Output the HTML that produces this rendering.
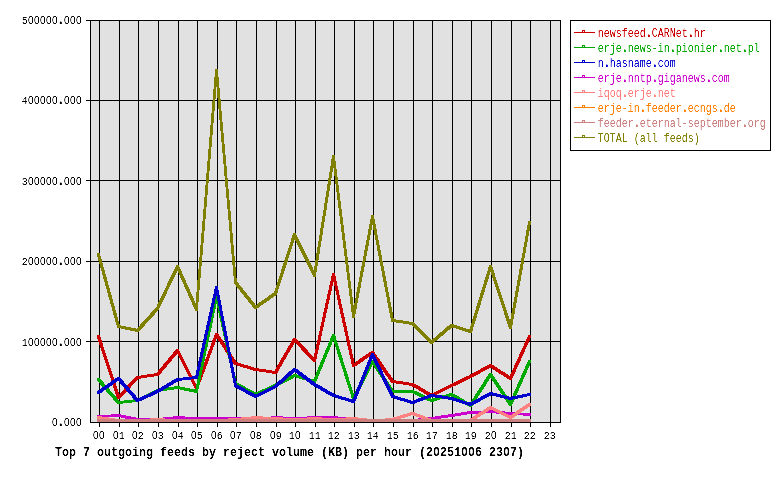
<!DOCTYPE html>
<html><head><meta charset="utf-8"><title>Top 7 outgoing feeds by reject volume</title>
<style>
html,body{margin:0;padding:0;background:#fff;}
body{width:780px;height:480px;overflow:hidden;}
svg{display:block;}
text{font-family:"Liberation Mono","DejaVu Sans Mono",monospace;}
text.t{font-weight:bold;}
tspan.z{font-family:"Liberation Sans","DejaVu Sans",sans-serif;}
tspan.p{font-weight:bold;font-size:16px;}
</style></head><body>
<svg width="780" height="480" viewBox="0 0 780 480">
<defs><filter id="cr" x="0" y="0" width="100%" height="100%" filterUnits="userSpaceOnUse" color-interpolation-filters="sRGB"><feComponentTransfer><feFuncA type="table" tableValues="0 0 0.2 0.8 1 1"/></feComponentTransfer></filter></defs>
<rect x="0" y="0" width="780" height="480" fill="#ffffff"/>
<rect x="90" y="20" width="471" height="403" fill="#e1e1e1"/>
<g stroke="#000" stroke-width="1" shape-rendering="crispEdges" fill="none">

<line x1="99.5" y1="20" x2="99.5" y2="427"/>
<line x1="119.5" y1="20" x2="119.5" y2="427"/>
<line x1="138.5" y1="20" x2="138.5" y2="427"/>
<line x1="158.5" y1="20" x2="158.5" y2="427"/>
<line x1="178.5" y1="20" x2="178.5" y2="427"/>
<line x1="197.5" y1="20" x2="197.5" y2="427"/>
<line x1="217.5" y1="20" x2="217.5" y2="427"/>
<line x1="236.5" y1="20" x2="236.5" y2="427"/>
<line x1="256.5" y1="20" x2="256.5" y2="427"/>
<line x1="276.5" y1="20" x2="276.5" y2="427"/>
<line x1="295.5" y1="20" x2="295.5" y2="427"/>
<line x1="315.5" y1="20" x2="315.5" y2="427"/>
<line x1="334.5" y1="20" x2="334.5" y2="427"/>
<line x1="354.5" y1="20" x2="354.5" y2="427"/>
<line x1="373.5" y1="20" x2="373.5" y2="427"/>
<line x1="393.5" y1="20" x2="393.5" y2="427"/>
<line x1="413.5" y1="20" x2="413.5" y2="427"/>
<line x1="432.5" y1="20" x2="432.5" y2="427"/>
<line x1="452.5" y1="20" x2="452.5" y2="427"/>
<line x1="471.5" y1="20" x2="471.5" y2="427"/>
<line x1="491.5" y1="20" x2="491.5" y2="427"/>
<line x1="511.5" y1="20" x2="511.5" y2="427"/>
<line x1="530.5" y1="20" x2="530.5" y2="427"/>
<line x1="550.5" y1="20" x2="550.5" y2="427"/>
<line x1="86" y1="20.5" x2="561" y2="20.5"/>
<line x1="86" y1="100.5" x2="561" y2="100.5"/>
<line x1="86" y1="180.5" x2="561" y2="180.5"/>
<line x1="86" y1="261.5" x2="561" y2="261.5"/>
<line x1="86" y1="341.5" x2="561" y2="341.5"/>
<rect x="90.5" y="20.5" width="470" height="402"/>
</g>
<g filter="url(#cr)">
<text font-size="11.5" transform="translate(21.7,24.2) scale(0.8696,1)" x="0.00 7.15 14.05 20.95 27.85 34.75 40.05 48.55 55.45 62.35">5<tspan class="z">0</tspan><tspan class="z">0</tspan><tspan class="z">0</tspan><tspan class="z">0</tspan><tspan class="z">0</tspan><tspan class="p">.</tspan><tspan class="z">0</tspan><tspan class="z">0</tspan><tspan class="z">0</tspan></text>
<text font-size="11.5" transform="translate(21.7,104.2) scale(0.8696,1)" x="0.00 7.15 14.05 20.95 27.85 34.75 40.05 48.55 55.45 62.35">4<tspan class="z">0</tspan><tspan class="z">0</tspan><tspan class="z">0</tspan><tspan class="z">0</tspan><tspan class="z">0</tspan><tspan class="p">.</tspan><tspan class="z">0</tspan><tspan class="z">0</tspan><tspan class="z">0</tspan></text>
<text font-size="11.5" transform="translate(21.7,185.2) scale(0.8696,1)" x="0.00 7.15 14.05 20.95 27.85 34.75 40.05 48.55 55.45 62.35">3<tspan class="z">0</tspan><tspan class="z">0</tspan><tspan class="z">0</tspan><tspan class="z">0</tspan><tspan class="z">0</tspan><tspan class="p">.</tspan><tspan class="z">0</tspan><tspan class="z">0</tspan><tspan class="z">0</tspan></text>
<text font-size="11.5" transform="translate(21.7,265.2) scale(0.8696,1)" x="0.00 7.15 14.05 20.95 27.85 34.75 40.05 48.55 55.45 62.35">2<tspan class="z">0</tspan><tspan class="z">0</tspan><tspan class="z">0</tspan><tspan class="z">0</tspan><tspan class="z">0</tspan><tspan class="p">.</tspan><tspan class="z">0</tspan><tspan class="z">0</tspan><tspan class="z">0</tspan></text>
<text font-size="11.5" transform="translate(21.7,346.2) scale(0.8696,1)" x="0.00 7.15 14.05 20.95 27.85 34.75 40.05 48.55 55.45 62.35">1<tspan class="z">0</tspan><tspan class="z">0</tspan><tspan class="z">0</tspan><tspan class="z">0</tspan><tspan class="z">0</tspan><tspan class="p">.</tspan><tspan class="z">0</tspan><tspan class="z">0</tspan><tspan class="z">0</tspan></text>
<text font-size="11.5" transform="translate(51.7,426.2) scale(0.8696,1)" x="0.25 5.55 14.05 20.95 27.85"><tspan class="z">0</tspan><tspan class="p">.</tspan><tspan class="z">0</tspan><tspan class="z">0</tspan><tspan class="z">0</tspan></text>
<text font-size="11.5" transform="translate(92.8,439.3) scale(0.8696,1)" x="0.25 7.15"><tspan class="z">0</tspan><tspan class="z">0</tspan></text>
<text font-size="11.5" transform="translate(112.8,439.3) scale(0.8696,1)" x="0.25 6.90"><tspan class="z">0</tspan>1</text>
<text font-size="11.5" transform="translate(131.8,439.3) scale(0.8696,1)" x="0.25 6.90"><tspan class="z">0</tspan>2</text>
<text font-size="11.5" transform="translate(151.8,439.3) scale(0.8696,1)" x="0.25 6.90"><tspan class="z">0</tspan>3</text>
<text font-size="11.5" transform="translate(171.8,439.3) scale(0.8696,1)" x="0.25 6.90"><tspan class="z">0</tspan>4</text>
<text font-size="11.5" transform="translate(190.8,439.3) scale(0.8696,1)" x="0.25 6.90"><tspan class="z">0</tspan>5</text>
<text font-size="11.5" transform="translate(210.8,439.3) scale(0.8696,1)" x="0.25 6.90"><tspan class="z">0</tspan>6</text>
<text font-size="11.5" transform="translate(229.8,439.3) scale(0.8696,1)" x="0.25 6.90"><tspan class="z">0</tspan>7</text>
<text font-size="11.5" transform="translate(249.8,439.3) scale(0.8696,1)" x="0.25 6.90"><tspan class="z">0</tspan>8</text>
<text font-size="11.5" transform="translate(269.8,439.3) scale(0.8696,1)" x="0.25 6.90"><tspan class="z">0</tspan>9</text>
<text font-size="11.5" transform="translate(288.8,439.3) scale(0.8696,1)" x="0.00 7.15">1<tspan class="z">0</tspan></text>
<text font-size="11.5" transform="translate(308.8,439.3) scale(0.8696,1)" x="0.00 6.90">11</text>
<text font-size="11.5" transform="translate(327.8,439.3) scale(0.8696,1)" x="0.00 6.90">12</text>
<text font-size="11.5" transform="translate(347.8,439.3) scale(0.8696,1)" x="0.00 6.90">13</text>
<text font-size="11.5" transform="translate(366.8,439.3) scale(0.8696,1)" x="0.00 6.90">14</text>
<text font-size="11.5" transform="translate(386.8,439.3) scale(0.8696,1)" x="0.00 6.90">15</text>
<text font-size="11.5" transform="translate(406.8,439.3) scale(0.8696,1)" x="0.00 6.90">16</text>
<text font-size="11.5" transform="translate(425.8,439.3) scale(0.8696,1)" x="0.00 6.90">17</text>
<text font-size="11.5" transform="translate(445.8,439.3) scale(0.8696,1)" x="0.00 6.90">18</text>
<text font-size="11.5" transform="translate(464.8,439.3) scale(0.8696,1)" x="0.00 6.90">19</text>
<text font-size="11.5" transform="translate(484.8,439.3) scale(0.8696,1)" x="0.00 7.15">2<tspan class="z">0</tspan></text>
<text font-size="11.5" transform="translate(504.8,439.3) scale(0.8696,1)" x="0.00 6.90">21</text>
<text font-size="11.5" transform="translate(523.8,439.3) scale(0.8696,1)" x="0.00 6.90">22</text>
<text font-size="11.5" transform="translate(543.8,439.3) scale(0.8696,1)" x="0.00 6.90">23</text>
<text class="t" font-size="12.5" transform="translate(55,455.8) scale(0.9333,1)" x="0.00 7.50 15.00 22.50 30.00 37.50 45.00 52.50 60.00 67.50 75.00 82.50 90.00 97.50 105.00 112.50 120.00 127.50 135.00 142.50 150.00 157.50 165.00 172.50 180.00 187.50 195.00 202.50 210.00 217.50 225.00 232.50 240.00 247.50 255.00 262.50 270.00 277.50 285.00 292.50 300.00 307.50 315.00 322.50 330.00 337.50 345.00 352.50 360.00 367.50 375.00 382.50 390.00 397.50 405.27 412.50 420.00 427.50 435.27 442.77 450.00 457.50 465.00 472.50 480.27 487.50 495.00">Top 7 outgoing feeds by reject volume (KB) per hour (2<tspan class="z">0</tspan>251<tspan class="z">0</tspan><tspan class="z">0</tspan>6 23<tspan class="z">0</tspan>7)</text>
</g>
<g stroke="none" shape-rendering="crispEdges">
<path fill="#cc0000" d="M97.2 335.2L99.8 335.2L119.8 396.2L119.8 398.8L117.2 398.8L97.2 337.8zM117.2 396.2L136.2 376.2L138.8 376.2L138.8 378.8L119.8 398.8L117.2 398.8zM136.2 376.2L156.2 373.2L158.8 373.2L158.8 375.8L138.8 378.8L136.2 378.8zM156.2 373.2L176.2 349.2L178.8 349.2L178.8 351.8L158.8 375.8L156.2 375.8zM176.2 349.2L178.8 349.2L197.8 387.2L197.8 389.8L195.2 389.8L176.2 351.8zM195.2 387.2L215.2 333.2L217.8 333.2L217.8 335.8L197.8 389.8L195.2 389.8zM215.2 333.2L217.8 333.2L236.8 362.2L236.8 364.8L234.2 364.8L215.2 335.8zM234.2 362.2L236.8 362.2L256.8 368.2L256.8 370.8L254.2 370.8L234.2 364.8zM254.2 368.2L256.8 368.2L276.8 371.2L276.8 373.8L274.2 373.8L254.2 370.8zM274.2 371.2L293.2 338.2L295.8 338.2L295.8 340.8L276.8 373.8L274.2 373.8zM293.2 338.2L295.8 338.2L315.8 359.2L315.8 361.8L313.2 361.8L293.2 340.8zM313.2 359.2L332.2 273.2L334.8 273.2L334.8 275.8L315.8 361.8L313.2 361.8zM332.2 273.2L334.8 273.2L354.8 364.2L354.8 366.8L352.2 366.8L332.2 275.8zM352.2 364.2L371.2 351.2L373.8 351.2L373.8 353.8L354.8 366.8L352.2 366.8zM371.2 351.2L373.8 351.2L393.8 380.2L393.8 382.8L391.2 382.8L371.2 353.8zM391.2 380.2L393.8 380.2L413.8 383.2L413.8 385.8L411.2 385.8L391.2 382.8zM411.2 383.2L413.8 383.2L432.8 394.2L432.8 396.8L430.2 396.8L411.2 385.8zM430.2 394.2L450.2 384.2L452.8 384.2L452.8 386.8L432.8 396.8L430.2 396.8zM450.2 384.2L469.2 375.2L471.8 375.2L471.8 377.8L452.8 386.8L450.2 386.8zM469.2 375.2L489.2 364.2L491.8 364.2L491.8 366.8L471.8 377.8L469.2 377.8zM489.2 364.2L491.8 364.2L511.8 377.2L511.8 379.8L509.2 379.8L489.2 366.8zM509.2 377.2L528.2 335.2L530.8 335.2L530.8 337.8L511.8 379.8L509.2 379.8z"/>
<path fill="#00aa00" d="M97.2 378.2L99.8 378.2L119.8 401.2L119.8 403.8L117.2 403.8L97.2 380.8zM117.2 401.2L136.2 399.2L138.8 399.2L138.8 401.8L119.8 403.8L117.2 403.8zM136.2 399.2L156.2 389.2L158.8 389.2L158.8 391.8L138.8 401.8L136.2 401.8zM156.2 389.2L176.2 386.2L178.8 386.2L178.8 388.8L158.8 391.8L156.2 391.8zM176.2 386.2L178.8 386.2L197.8 390.2L197.8 392.8L195.2 392.8L176.2 388.8zM195.2 390.2L215.2 295.2L217.8 295.2L217.8 297.8L197.8 392.8L195.2 392.8zM215.2 295.2L217.8 295.2L236.8 382.2L236.8 384.8L234.2 384.8L215.2 297.8zM234.2 382.2L236.8 382.2L256.8 393.2L256.8 395.8L254.2 395.8L234.2 384.8zM254.2 393.2L274.2 384.2L276.8 384.2L276.8 386.8L256.8 395.8L254.2 395.8zM274.2 384.2L293.2 374.2L295.8 374.2L295.8 376.8L276.8 386.8L274.2 386.8zM293.2 374.2L295.8 374.2L315.8 380.2L315.8 382.8L313.2 382.8L293.2 376.8zM313.2 380.2L332.2 334.2L334.8 334.2L334.8 336.8L315.8 382.8L313.2 382.8zM332.2 334.2L334.8 334.2L354.8 397.2L354.8 399.8L352.2 399.8L332.2 336.8zM352.2 397.2L371.2 360.2L373.8 360.2L373.8 362.8L354.8 399.8L352.2 399.8zM371.2 360.2L373.8 360.2L393.8 390.2L393.8 392.8L391.2 392.8L371.2 362.8zM391.2 390.2L413.8 390.2L413.8 392.8L391.2 392.8zM411.2 390.2L413.8 390.2L432.8 399.2L432.8 401.8L430.2 401.8L411.2 392.8zM430.2 399.2L450.2 393.2L452.8 393.2L452.8 395.8L432.8 401.8L430.2 401.8zM450.2 393.2L452.8 393.2L471.8 404.2L471.8 406.8L469.2 406.8L450.2 395.8zM469.2 404.2L489.2 373.2L491.8 373.2L491.8 375.8L471.8 406.8L469.2 406.8zM489.2 373.2L491.8 373.2L511.8 403.2L511.8 405.8L509.2 405.8L489.2 375.8zM509.2 403.2L528.2 360.2L530.8 360.2L530.8 362.8L511.8 405.8L509.2 405.8z"/>
<path fill="#0000cc" d="M97.2 391.2L117.2 377.2L119.8 377.2L119.8 379.8L99.8 393.8L97.2 393.8zM117.2 377.2L119.8 377.2L138.8 399.2L138.8 401.8L136.2 401.8L117.2 379.8zM136.2 399.2L156.2 390.2L158.8 390.2L158.8 392.8L138.8 401.8L136.2 401.8zM156.2 390.2L176.2 378.2L178.8 378.2L178.8 380.8L158.8 392.8L156.2 392.8zM176.2 378.2L195.2 376.2L197.8 376.2L197.8 378.8L178.8 380.8L176.2 380.8zM195.2 376.2L215.2 286.2L217.8 286.2L217.8 288.8L197.8 378.8L195.2 378.8zM215.2 286.2L217.8 286.2L236.8 384.2L236.8 386.8L234.2 386.8L215.2 288.8zM234.2 384.2L236.8 384.2L256.8 395.2L256.8 397.8L254.2 397.8L234.2 386.8zM254.2 395.2L274.2 385.2L276.8 385.2L276.8 387.8L256.8 397.8L254.2 397.8zM274.2 385.2L293.2 368.2L295.8 368.2L295.8 370.8L276.8 387.8L274.2 387.8zM293.2 368.2L295.8 368.2L315.8 383.2L315.8 385.8L313.2 385.8L293.2 370.8zM313.2 383.2L315.8 383.2L334.8 394.2L334.8 396.8L332.2 396.8L313.2 385.8zM332.2 394.2L334.8 394.2L354.8 400.2L354.8 402.8L352.2 402.8L332.2 396.8zM352.2 400.2L371.2 353.2L373.8 353.2L373.8 355.8L354.8 402.8L352.2 402.8zM371.2 353.2L373.8 353.2L393.8 395.2L393.8 397.8L391.2 397.8L371.2 355.8zM391.2 395.2L393.8 395.2L413.8 401.2L413.8 403.8L411.2 403.8L391.2 397.8zM411.2 401.2L430.2 394.2L432.8 394.2L432.8 396.8L413.8 403.8L411.2 403.8zM430.2 394.2L432.8 394.2L452.8 397.2L452.8 399.8L450.2 399.8L430.2 396.8zM450.2 397.2L452.8 397.2L471.8 403.2L471.8 405.8L469.2 405.8L450.2 399.8zM469.2 403.2L489.2 392.2L491.8 392.2L491.8 394.8L471.8 405.8L469.2 405.8zM489.2 392.2L491.8 392.2L511.8 397.2L511.8 399.8L509.2 399.8L489.2 394.8zM509.2 397.2L528.2 393.2L530.8 393.2L530.8 395.8L511.8 399.8L509.2 399.8z"/>
<path fill="#cc00cc" d="M97.2 415.2L117.2 414.2L119.8 414.2L119.8 416.8L99.8 417.8L97.2 417.8zM117.2 414.2L119.8 414.2L138.8 418.2L138.8 420.8L136.2 420.8L117.2 416.8zM136.2 418.2L158.8 418.2L158.8 420.8L136.2 420.8zM156.2 418.2L176.2 416.2L178.8 416.2L178.8 418.8L158.8 420.8L156.2 420.8zM176.2 416.2L178.8 416.2L197.8 417.2L197.8 419.8L195.2 419.8L176.2 418.8zM195.2 417.2L217.8 417.2L217.8 419.8L195.2 419.8zM215.2 417.2L236.8 417.2L236.8 419.8L215.2 419.8zM234.2 417.2L236.8 417.2L256.8 418.2L256.8 420.8L254.2 420.8L234.2 419.8zM254.2 418.2L274.2 416.2L276.8 416.2L276.8 418.8L256.8 420.8L254.2 420.8zM274.2 416.2L276.8 416.2L295.8 417.2L295.8 419.8L293.2 419.8L274.2 418.8zM293.2 417.2L313.2 416.2L315.8 416.2L315.8 418.8L295.8 419.8L293.2 419.8zM313.2 416.2L334.8 416.2L334.8 418.8L313.2 418.8zM332.2 416.2L334.8 416.2L354.8 418.2L354.8 420.8L352.2 420.8L332.2 418.8zM352.2 418.2L354.8 418.2L373.8 419.2L373.8 421.8L371.2 421.8L352.2 420.8zM371.2 419.2L393.8 419.2L393.8 421.8L371.2 421.8zM391.2 419.2L413.8 419.2L413.8 421.8L391.2 421.8zM411.2 419.2L430.2 417.2L432.8 417.2L432.8 419.8L413.8 421.8L411.2 421.8zM430.2 417.2L450.2 414.2L452.8 414.2L452.8 416.8L432.8 419.8L430.2 419.8zM450.2 414.2L469.2 411.2L471.8 411.2L471.8 413.8L452.8 416.8L450.2 416.8zM469.2 411.2L489.2 410.2L491.8 410.2L491.8 412.8L471.8 413.8L469.2 413.8zM489.2 410.2L491.8 410.2L511.8 412.2L511.8 414.8L509.2 414.8L489.2 412.8zM509.2 412.2L511.8 412.2L530.8 413.2L530.8 415.8L528.2 415.8L509.2 414.8z"/>
<path fill="#ff8080" d="M97.2 416.2L99.8 416.2L119.8 419.2L119.8 421.8L117.2 421.8L97.2 418.8zM117.2 419.2L138.8 419.2L138.8 421.8L117.2 421.8zM136.2 419.2L156.2 418.2L158.8 418.2L158.8 420.8L138.8 421.8L136.2 421.8zM156.2 418.2L158.8 418.2L178.8 419.2L178.8 421.8L176.2 421.8L156.2 420.8zM176.2 419.2L197.8 419.2L197.8 421.8L176.2 421.8zM195.2 419.2L217.8 419.2L217.8 421.8L195.2 421.8zM215.2 419.2L234.2 418.2L236.8 418.2L236.8 420.8L217.8 421.8L215.2 421.8zM234.2 418.2L254.2 416.2L256.8 416.2L256.8 418.8L236.8 420.8L234.2 420.8zM254.2 416.2L256.8 416.2L276.8 417.2L276.8 419.8L274.2 419.8L254.2 418.8zM274.2 417.2L276.8 417.2L295.8 418.2L295.8 420.8L293.2 420.8L274.2 419.8zM293.2 418.2L313.2 417.2L315.8 417.2L315.8 419.8L295.8 420.8L293.2 420.8zM313.2 417.2L315.8 417.2L334.8 418.2L334.8 420.8L332.2 420.8L313.2 419.8zM332.2 418.2L352.2 417.2L354.8 417.2L354.8 419.8L334.8 420.8L332.2 420.8zM352.2 417.2L354.8 417.2L373.8 419.2L373.8 421.8L371.2 421.8L352.2 419.8zM371.2 419.2L391.2 418.2L393.8 418.2L393.8 420.8L373.8 421.8L371.2 421.8zM391.2 418.2L411.2 412.2L413.8 412.2L413.8 414.8L393.8 420.8L391.2 420.8zM411.2 412.2L413.8 412.2L432.8 419.2L432.8 421.8L430.2 421.8L411.2 414.8zM430.2 419.2L452.8 419.2L452.8 421.8L430.2 421.8zM450.2 419.2L471.8 419.2L471.8 421.8L450.2 421.8zM469.2 419.2L489.2 406.2L491.8 406.2L491.8 408.8L471.8 421.8L469.2 421.8zM489.2 406.2L491.8 406.2L511.8 416.2L511.8 418.8L509.2 418.8L489.2 408.8zM509.2 416.2L528.2 403.2L530.8 403.2L530.8 405.8L511.8 418.8L509.2 418.8z"/>
<path fill="#ff8000" d="M97.2 419.2L119.8 419.2L119.8 421.8L97.2 421.8zM117.2 419.2L138.8 419.2L138.8 421.8L117.2 421.8zM136.2 419.2L158.8 419.2L158.8 421.8L136.2 421.8zM156.2 419.2L178.8 419.2L178.8 421.8L156.2 421.8zM176.2 419.2L197.8 419.2L197.8 421.8L176.2 421.8zM195.2 419.2L217.8 419.2L217.8 421.8L195.2 421.8zM215.2 419.2L236.8 419.2L236.8 421.8L215.2 421.8zM234.2 419.2L256.8 419.2L256.8 421.8L234.2 421.8zM254.2 419.2L276.8 419.2L276.8 421.8L254.2 421.8zM274.2 419.2L295.8 419.2L295.8 421.8L274.2 421.8zM293.2 419.2L315.8 419.2L315.8 421.8L293.2 421.8zM313.2 419.2L334.8 419.2L334.8 421.8L313.2 421.8zM332.2 419.2L354.8 419.2L354.8 421.8L332.2 421.8zM352.2 419.2L373.8 419.2L373.8 421.8L352.2 421.8zM371.2 419.2L393.8 419.2L393.8 421.8L371.2 421.8zM391.2 419.2L413.8 419.2L413.8 421.8L391.2 421.8zM411.2 419.2L432.8 419.2L432.8 421.8L411.2 421.8zM430.2 419.2L452.8 419.2L452.8 421.8L430.2 421.8zM450.2 419.2L471.8 419.2L471.8 421.8L450.2 421.8zM469.2 419.2L491.8 419.2L491.8 421.8L469.2 421.8zM489.2 419.2L511.8 419.2L511.8 421.8L489.2 421.8zM509.2 419.2L530.8 419.2L530.8 421.8L509.2 421.8z"/>
<path fill="#cc8080" d="M97.2 419.2L119.8 419.2L119.8 421.8L97.2 421.8zM117.2 419.2L138.8 419.2L138.8 421.8L117.2 421.8zM136.2 419.2L158.8 419.2L158.8 421.8L136.2 421.8zM156.2 419.2L178.8 419.2L178.8 421.8L156.2 421.8zM176.2 419.2L197.8 419.2L197.8 421.8L176.2 421.8zM195.2 419.2L217.8 419.2L217.8 421.8L195.2 421.8zM215.2 419.2L236.8 419.2L236.8 421.8L215.2 421.8zM234.2 419.2L256.8 419.2L256.8 421.8L234.2 421.8zM254.2 419.2L276.8 419.2L276.8 421.8L254.2 421.8zM274.2 419.2L295.8 419.2L295.8 421.8L274.2 421.8zM293.2 419.2L315.8 419.2L315.8 421.8L293.2 421.8zM313.2 419.2L334.8 419.2L334.8 421.8L313.2 421.8zM332.2 419.2L354.8 419.2L354.8 421.8L332.2 421.8zM352.2 419.2L373.8 419.2L373.8 421.8L352.2 421.8zM371.2 419.2L393.8 419.2L393.8 421.8L371.2 421.8zM391.2 419.2L413.8 419.2L413.8 421.8L391.2 421.8zM411.2 419.2L432.8 419.2L432.8 421.8L411.2 421.8zM430.2 419.2L452.8 419.2L452.8 421.8L430.2 421.8zM450.2 419.2L471.8 419.2L471.8 421.8L450.2 421.8zM469.2 419.2L491.8 419.2L491.8 421.8L469.2 421.8zM489.2 419.2L511.8 419.2L511.8 421.8L489.2 421.8zM509.2 419.2L530.8 419.2L530.8 421.8L509.2 421.8z"/>
<path fill="#808000" d="M97.2 253.2L99.8 253.2L119.8 325.2L119.8 327.8L117.2 327.8L97.2 255.8zM117.2 325.2L119.8 325.2L138.8 329.2L138.8 331.8L136.2 331.8L117.2 327.8zM136.2 329.2L156.2 307.2L158.8 307.2L158.8 309.8L138.8 331.8L136.2 331.8zM156.2 307.2L176.2 265.2L178.8 265.2L178.8 267.8L158.8 309.8L156.2 309.8zM176.2 265.2L178.8 265.2L197.8 308.2L197.8 310.8L195.2 310.8L176.2 267.8zM195.2 308.2L215.2 69.2L217.8 69.2L217.8 71.8L197.8 310.8L195.2 310.8zM215.2 69.2L217.8 69.2L236.8 281.2L236.8 283.8L234.2 283.8L215.2 71.8zM234.2 281.2L236.8 281.2L256.8 306.2L256.8 308.8L254.2 308.8L234.2 283.8zM254.2 306.2L274.2 292.2L276.8 292.2L276.8 294.8L256.8 308.8L254.2 308.8zM274.2 292.2L293.2 233.2L295.8 233.2L295.8 235.8L276.8 294.8L274.2 294.8zM293.2 233.2L295.8 233.2L315.8 274.2L315.8 276.8L313.2 276.8L293.2 235.8zM313.2 274.2L332.2 155.2L334.8 155.2L334.8 157.8L315.8 276.8L313.2 276.8zM332.2 155.2L334.8 155.2L354.8 315.2L354.8 317.8L352.2 317.8L332.2 157.8zM352.2 315.2L371.2 215.2L373.8 215.2L373.8 217.8L354.8 317.8L352.2 317.8zM371.2 215.2L373.8 215.2L393.8 319.2L393.8 321.8L391.2 321.8L371.2 217.8zM391.2 319.2L393.8 319.2L413.8 322.2L413.8 324.8L411.2 324.8L391.2 321.8zM411.2 322.2L413.8 322.2L432.8 341.2L432.8 343.8L430.2 343.8L411.2 324.8zM430.2 341.2L450.2 324.2L452.8 324.2L452.8 326.8L432.8 343.8L430.2 343.8zM450.2 324.2L452.8 324.2L471.8 330.2L471.8 332.8L469.2 332.8L450.2 326.8zM469.2 330.2L489.2 265.2L491.8 265.2L491.8 267.8L471.8 332.8L469.2 332.8zM489.2 265.2L491.8 265.2L511.8 326.2L511.8 328.8L509.2 328.8L489.2 267.8zM509.2 326.2L528.2 221.2L530.8 221.2L530.8 223.8L511.8 328.8L509.2 328.8z"/>
</g>
<rect x="570.5" y="20.5" width="200" height="130" fill="#fff" stroke="#000" stroke-width="1" shape-rendering="crispEdges"/>
<g filter="url(#cr)">
<text fill="#cc0000" font-size="12" transform="translate(597.7,36.7) scale(0.8333,1)" x="0.00 7.20 14.40 21.60 28.80 36.00 43.20 50.40 56.40 64.80 72.00 79.20 86.40 93.60 100.80 106.80 115.20 122.40">newsfeed<tspan class="p">.</tspan>CARNet<tspan class="p">.</tspan>hr</text>
<text fill="#00aa00" font-size="12" transform="translate(597.7,51.7) scale(0.8333,1)" x="0.00 7.20 14.40 21.60 27.60 36.00 43.20 50.40 57.60 64.80 72.00 79.20 85.20 93.60 100.80 108.00 115.20 122.40 129.60 136.80 142.80 151.20 158.40 165.60 171.60 180.00 187.20">erje<tspan class="p">.</tspan>news-in<tspan class="p">.</tspan>pionier<tspan class="p">.</tspan>net<tspan class="p">.</tspan>pl</text>
<text fill="#0000cc" font-size="12" transform="translate(597.7,66.7) scale(0.8333,1)" x="0.00 6.00 14.40 21.60 28.80 36.00 43.20 50.40 57.60 63.60 72.00 79.20 86.40">n<tspan class="p">.</tspan>hasname<tspan class="p">.</tspan>com</text>
<text fill="#cc00cc" font-size="12" transform="translate(597.7,81.7) scale(0.8333,1)" x="0.00 7.20 14.40 21.60 27.60 36.00 43.20 50.40 57.60 63.60 72.00 79.20 86.40 93.60 100.80 108.00 115.20 122.40 128.40 136.80 144.00 151.20">erje<tspan class="p">.</tspan>nntp<tspan class="p">.</tspan>giganews<tspan class="p">.</tspan>com</text>
<text fill="#ff8080" font-size="12" transform="translate(597.7,96.7) scale(0.8333,1)" x="0.00 7.20 14.40 21.60 27.60 36.00 43.20 50.40 57.60 63.60 72.00 79.20 86.40">iqoq<tspan class="p">.</tspan>erje<tspan class="p">.</tspan>net</text>
<text fill="#ff8000" font-size="12" transform="translate(597.7,111.7) scale(0.8333,1)" x="0.00 7.20 14.40 21.60 28.80 36.00 43.20 49.20 57.60 64.80 72.00 79.20 86.40 93.60 99.60 108.00 115.20 122.40 129.60 136.80 142.80 151.20 158.40">erje-in<tspan class="p">.</tspan>feeder<tspan class="p">.</tspan>ecngs<tspan class="p">.</tspan>de</text>
<text fill="#cc8080" font-size="12" transform="translate(597.7,126.7) scale(0.8333,1)" x="0.00 7.20 14.40 21.60 28.80 36.00 42.00 50.40 57.60 64.80 72.00 79.20 86.40 93.60 100.80 108.00 115.20 122.40 129.60 136.80 144.00 151.20 158.40 165.60 171.60 180.00 187.20 194.40">feeder<tspan class="p">.</tspan>eternal-september<tspan class="p">.</tspan>org</text>
<text fill="#808000" font-size="12" transform="translate(597.7,141.7) scale(0.8333,1)" x="0.00 7.20 14.40 21.60 28.80 36.00 43.20 50.40 57.60 64.80 72.00 79.20 86.40 93.60 100.80 108.00 115.20">TOTAL (all feeds)</text>
</g>
<g shape-rendering="crispEdges" stroke="#cc0000" fill="none" stroke-width="1"><line x1="574" y1="32.5" x2="595" y2="32.5"/><rect x="582.5" y="30.5" width="2" height="2"/></g>
<g shape-rendering="crispEdges" stroke="#00aa00" fill="none" stroke-width="1"><line x1="574" y1="47.5" x2="595" y2="47.5"/><rect x="582.5" y="45.5" width="2" height="2"/></g>
<g shape-rendering="crispEdges" stroke="#0000cc" fill="none" stroke-width="1"><line x1="574" y1="62.5" x2="595" y2="62.5"/><rect x="582.5" y="60.5" width="2" height="2"/></g>
<g shape-rendering="crispEdges" stroke="#cc00cc" fill="none" stroke-width="1"><line x1="574" y1="77.5" x2="595" y2="77.5"/><rect x="582.5" y="75.5" width="2" height="2"/></g>
<g shape-rendering="crispEdges" stroke="#ff8080" fill="none" stroke-width="1"><line x1="574" y1="92.5" x2="595" y2="92.5"/><rect x="582.5" y="90.5" width="2" height="2"/></g>
<g shape-rendering="crispEdges" stroke="#ff8000" fill="none" stroke-width="1"><line x1="574" y1="107.5" x2="595" y2="107.5"/><rect x="582.5" y="105.5" width="2" height="2"/></g>
<g shape-rendering="crispEdges" stroke="#cc8080" fill="none" stroke-width="1"><line x1="574" y1="122.5" x2="595" y2="122.5"/><rect x="582.5" y="120.5" width="2" height="2"/></g>
<g shape-rendering="crispEdges" stroke="#808000" fill="none" stroke-width="1"><line x1="574" y1="137.5" x2="595" y2="137.5"/><rect x="582.5" y="135.5" width="2" height="2"/></g>
</svg></body></html>
